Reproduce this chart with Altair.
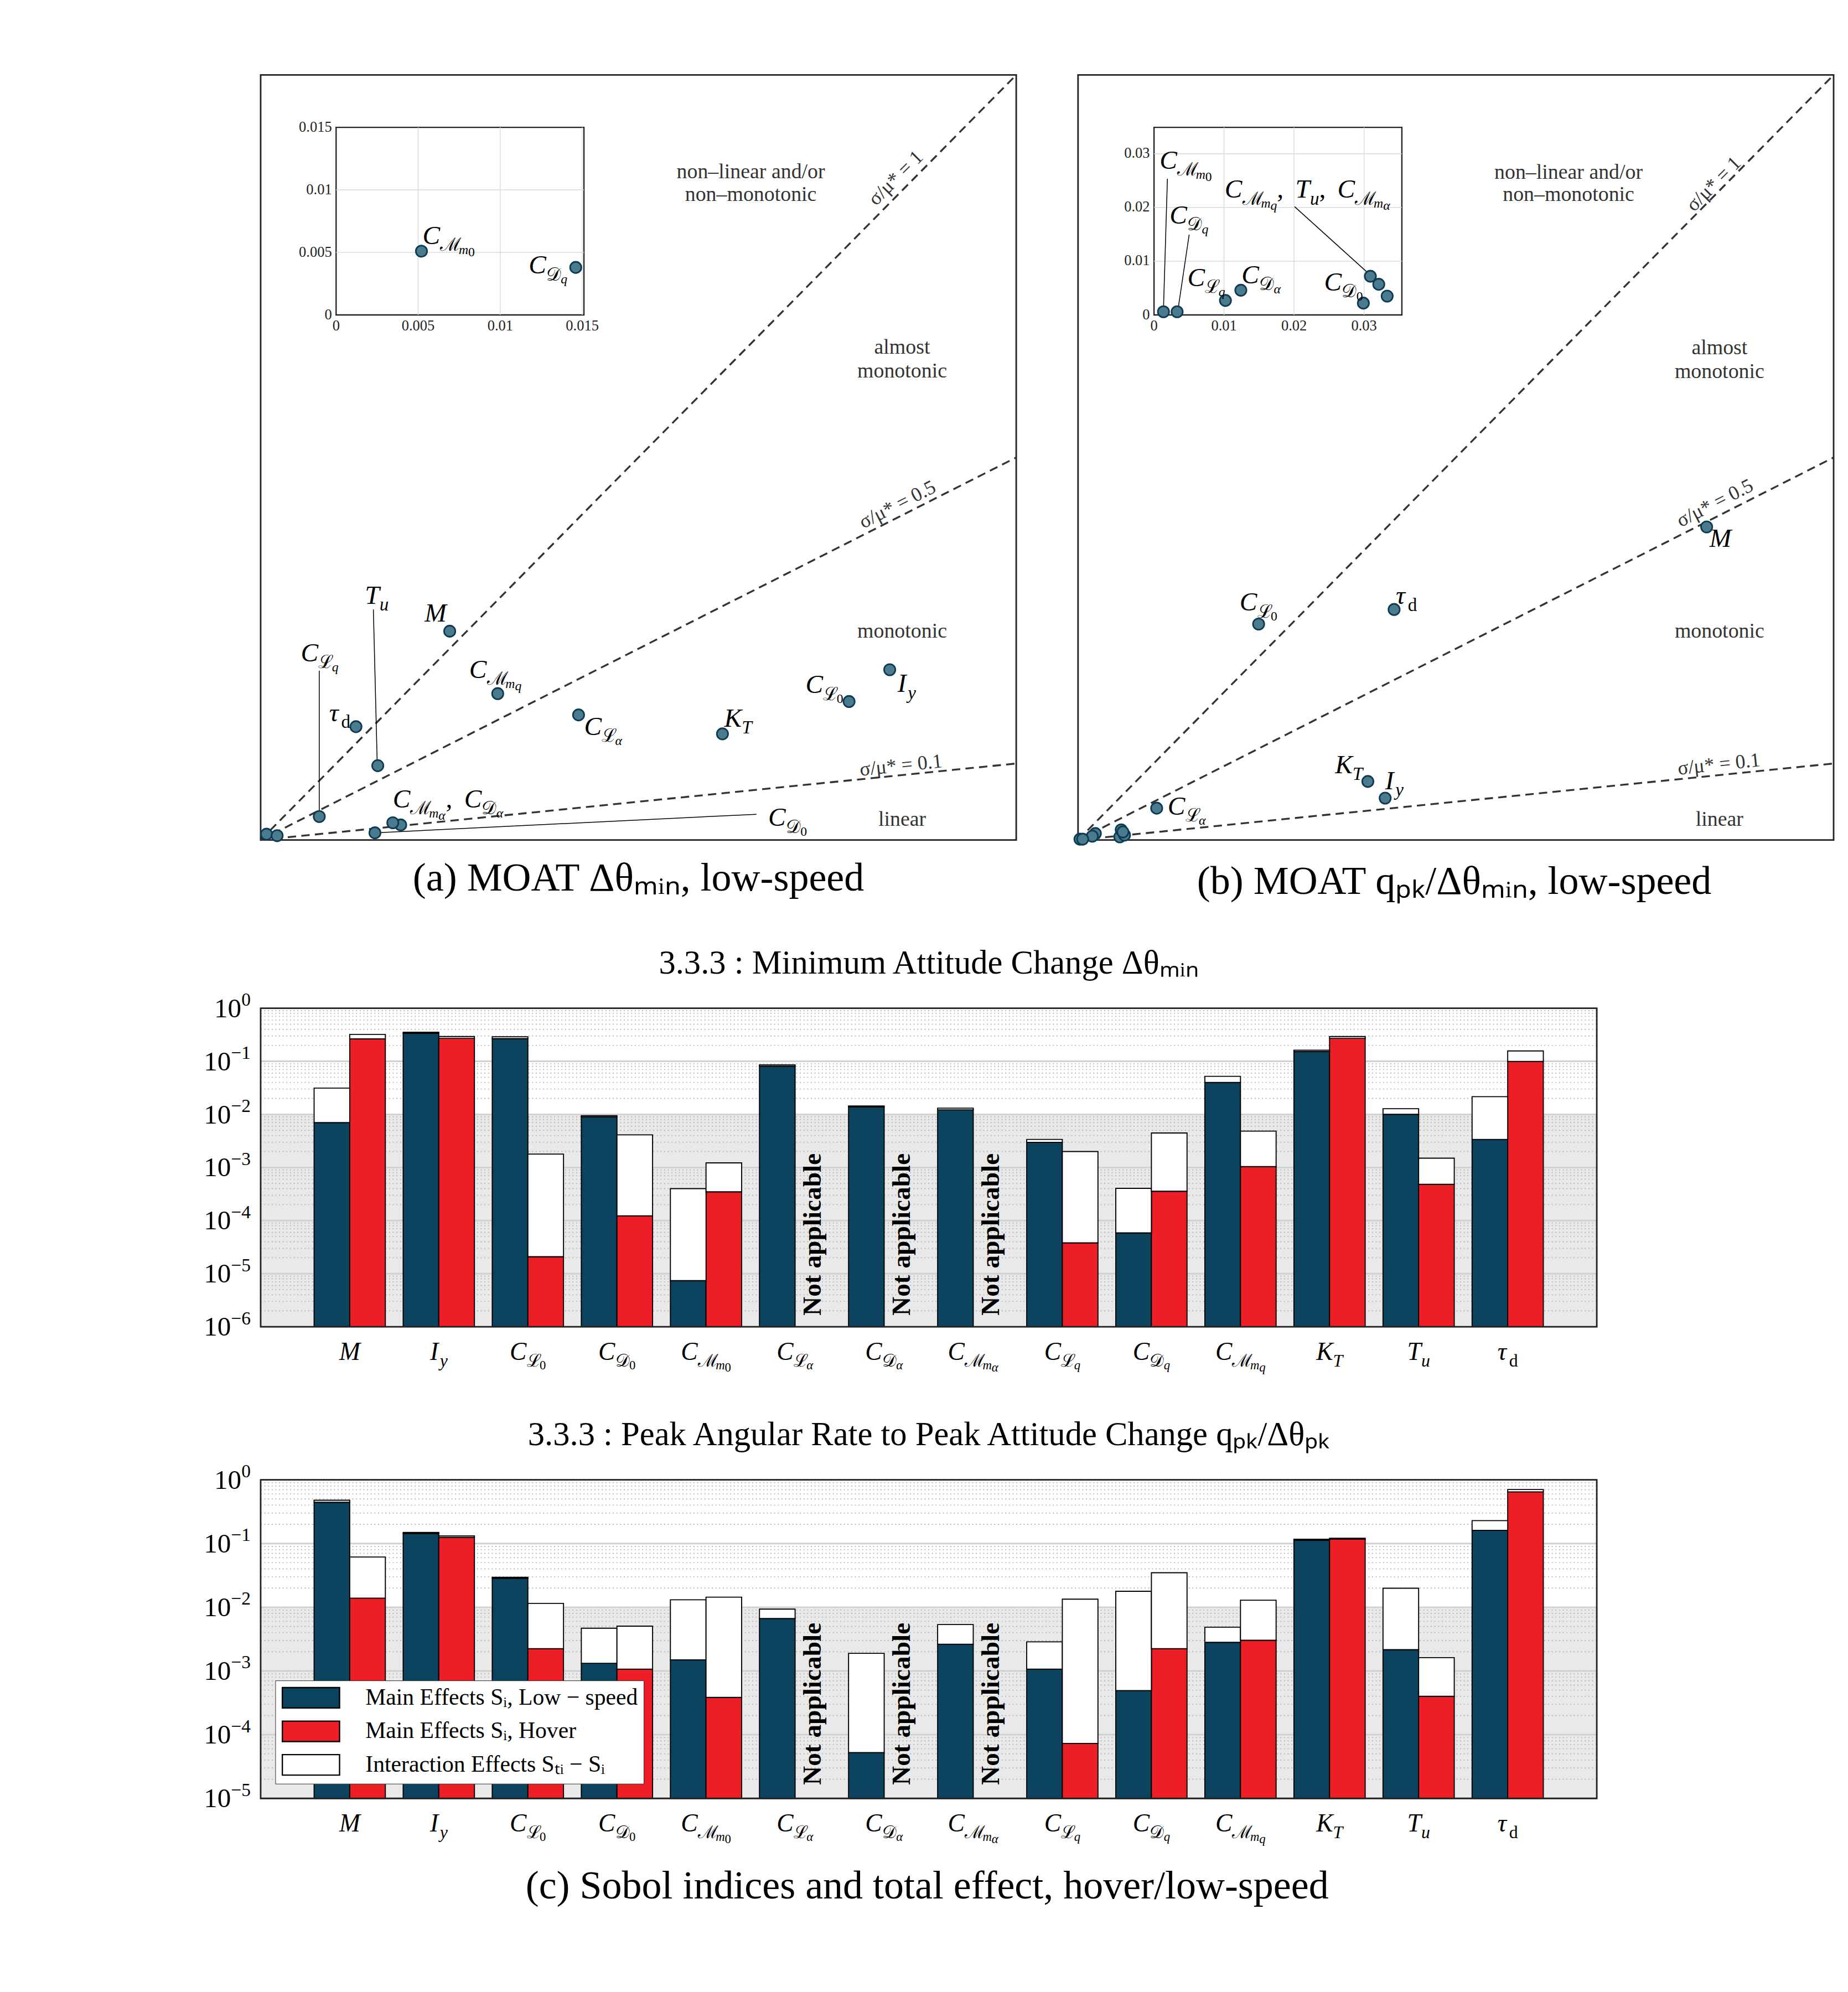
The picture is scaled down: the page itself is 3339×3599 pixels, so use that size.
import math
import altair as alt
import pandas as pd

# ------------------------------------------------------------------ style
FONT = "Liberation Serif"
CAL = "DejaVu Serif"
INK = "#222222"
PT_FILL = "#4B7B8F"
PT_EDGE = "#0E3B52"
LOW_C = "#0C435E"
HOV_C = "#EE1E26"
BAND_C = "#E8E9E8"

# ------------------------------------------------------------------ data
PARAMS = ["M", "Iy", "CL0", "CD0", "CMm0", "CLa", "CDa", "CMma",
          "CLq", "CDq", "CMmq", "KT", "Tu", "td"]

# label pieces: (text, level, style)
SEG = {
    "M": [("M", 0, "i")],
    "Iy": [("I", 0, "i"), ("y", 1, "i")],
    "CL0": [("C", 0, "i"), ("ℒ", 1, "c"), ("0", 2, "r")],
    "CD0": [("C", 0, "i"), ("𝒟", 1, "c"), ("0", 2, "r")],
    "CMm0": [("C", 0, "i"), ("ℳ", 1, "c"), ("m", 2, "i"), ("0", 3, "r")],
    "CLa": [("C", 0, "i"), ("ℒ", 1, "c"), ("α", 2, "i")],
    "CDa": [("C", 0, "i"), ("𝒟", 1, "c"), ("α", 2, "i")],
    "CMma": [("C", 0, "i"), ("ℳ", 1, "c"), ("m", 2, "i"), ("α", 3, "i")],
    "CLq": [("C", 0, "i"), ("ℒ", 1, "c"), ("q", 2, "i")],
    "CDq": [("C", 0, "i"), ("𝒟", 1, "c"), ("q", 2, "i")],
    "CMmq": [("C", 0, "i"), ("ℳ", 1, "c"), ("m", 2, "i"), ("q", 3, "i")],
    "KT": [("K", 0, "i"), ("T", 1, "i")],
    "Tu": [("T", 0, "i"), ("u", 1, "i")],
    "td": [("τ", 0, "i"), ("d", 1, "r")],
}

# MOAT (a): low-speed, delta theta min
A_MU = [0.1674, 0.557, 0.521, 0.1012, 0.0052, 0.2815, 0.124, 0.117,
        0.0519, 0.0146, 0.2099, 0.4089, 0.1037, 0.0844]
A_SIGMA = [0.1826, 0.1489, 0.1211, 0.0063, 0.0051, 0.1094, 0.0132, 0.0151,
           0.0205, 0.0038, 0.128, 0.0928, 0.065, 0.0991]
# MOAT (b): low-speed, q_pk / delta theta min
B_MU = [0.4501, 0.2199, 0.1293, 0.0299, 0.00135, 0.0563, 0.0124, 0.0333,
        0.0102, 0.0033, 0.0309, 0.2075, 0.0321, 0.2263]
B_SIGMA = [0.2214, 0.0296, 0.1527, 0.0022, 0.0006, 0.0225, 0.0046, 0.0035,
           0.0027, 0.0006, 0.0072, 0.0414, 0.0057, 0.163]

A_LIM = 0.669
B_LIM = 0.541
A_TICKS = [0, 0.1, 0.2, 0.3, 0.4, 0.5, 0.6]
B_TICKS = [0, 0.05, 0.1, 0.15, 0.2, 0.25, 0.3, 0.35, 0.4, 0.45, 0.5]
IA_LIM = (0.0151, 0.0150)
IB_LIM = (0.0354, 0.0349)
IA_TICKS = [0, 0.005, 0.01, 0.015]
IB_TICKS = [0, 0.01, 0.02, 0.03]
RATIOS = [1.0, 0.5, 0.1]

# label anchors (left/baseline, in data units)
LAB_A = [(["M"], 0.1452, 0.1909), (["Iy"], 0.564, 0.1294), (["CL0"], 0.4825, 0.1284),
         (["CD0"], 0.4494, 0.0122), (["CLa"], 0.2864, 0.0918), (["CLq"], 0.0356, 0.1563),
         (["CMmq"], 0.1847, 0.1416), (["KT"], 0.4104, 0.0991), (["Tu"], 0.0923, 0.2065),
         (["td"], 0.0607, 0.104), (["CMma", "CDa"], 0.117, 0.0283)]
ILAB_A = [(["CMm0"], 0.00527, 0.00567), (["CDq"], 0.01173, 0.0033)]
LAB_B = [(["M"], 0.4521, 0.2072), (["Iy"], 0.2199, 0.0359), (["CL0"], 0.1157, 0.1622),
         (["CLa"], 0.0642, 0.0178), (["KT"], 0.184, 0.0474), (["td"], 0.2275, 0.1669)]
ILAB_B = [(["CMm0"], 0.0008, 0.0272), (["CDq"], 0.00223, 0.0170), (["CLq"], 0.00478, 0.0054),
          (["CDa"], 0.0125, 0.0059), (["CD0"], 0.0243, 0.00457),
          (["CMmq", "Tu", "CMma"], 0.0101, 0.0218)]
LEAD_A = [(0.0519, 0.148, 0.0519, 0.0215), (0.0998, 0.2017, 0.1032, 0.0674),
          (0.1012, 0.0063, 0.439, 0.0225)]
ILEAD_B = [(0.00191, 0.02534, 0.00135, 0.00104), (0.00502, 0.01495, 0.00343, 0.00104),
           (0.02008, 0.02015, 0.03084, 0.00748)]
REG_A = [("non–linear and/or", 0.434, 0.5786), ("non–monotonic", 0.434, 0.559),
         ("almost", 0.568, 0.4253), ("monotonic", 0.568, 0.4043),
         ("monotonic", 0.568, 0.1772), ("linear", 0.568, 0.0122)]
REG_B = [("non–linear and/or", 0.3512, 0.4676), ("non–monotonic", 0.3512, 0.4519),
         ("almost", 0.4593, 0.3437), ("monotonic", 0.4593, 0.3268),
         ("monotonic", 0.4593, 0.1433), ("linear", 0.4593, 0.0099)]
LL_A = [("σ/μ* = 1", 0.5625, 0.5786, 315), ("σ/μ* = 0.5", 0.564, 0.293, 333),
        ("σ/μ* = 0.1", 0.567, 0.0649, 354)]
LL_B = [("σ/μ* = 1", 0.4553, 0.4637, 315), ("σ/μ* = 0.5", 0.4561, 0.238, 333),
        ("σ/μ* = 0.1", 0.4589, 0.0533, 354)]

# Sobol indices: main effect S_i and total effect S_Ti
LOW1_SI = [7.0e-3, 0.336, 0.267, 9.05e-3, 7.4e-6, 0.0809, 0.0139, 0.0122,
           2.98e-3, 5.86e-5, 0.0399, 0.153, 0.01005, 3.38e-3]
LOW1_ST = [0.0313, 0.352, 0.290, 9.48e-3, 4.0e-4, 0.0857, 0.0144, 0.0131,
           3.38e-3, 4.05e-4, 0.0521, 0.162, 0.0128, 0.0216]
HOV1_SI = [0.264, 0.270, 2.09e-5, 1.23e-4, 3.49e-4, None, None, None,
           3.81e-5, 3.57e-4, 1.04e-3, 0.270, 4.82e-4, 0.0996]
HOV1_ST = [0.321, 0.293, 1.79e-3, 4.12e-3, 1.22e-3, None, None, None,
           2.0e-3, 4.47e-3, 4.84e-3, 0.293, 1.50e-3, 0.157]
LOW2_SI = [0.443, 0.144, 0.0285, 1.32e-3, 1.49e-3, 6.64e-3, 5.24e-5, 2.63e-3,
           1.07e-3, 4.93e-4, 2.81e-3, 0.1125, 2.16e-3, 0.161]
LOW2_ST = [0.478, 0.149, 0.0296, 4.68e-3, 0.0131, 9.33e-3, 1.89e-3, 5.35e-3,
           2.86e-3, 0.0178, 4.86e-3, 0.1167, 0.0199, 0.2286]
HOV2_SI = [0.0139, 0.125, 2.24e-3, 1.07e-3, 3.85e-4, None, None, None,
           7.29e-5, 2.24e-3, 3.03e-3, 0.118, 4.0e-4, 0.647]
HOV2_ST = [0.0614, 0.132, 0.0115, 5.05e-3, 0.0144, None, None, None,
           0.0134, 0.0348, 0.0129, 0.121, 1.62e-3, 0.705]
YMIN1, YMIN2 = 1e-6, 1e-5
BAND_TOP = 1e-2
NA_Y1, NA_Y2 = 10 ** -5.79, 10 ** -4.79
LEG = ["Main Effects Sᵢ, Low − speed", "Main Effects Sᵢ, Hover",
       "Interaction Effects Sₜᵢ − Sᵢ"]

# ------------------------------------------------------------------ layout constants
PW, PH = 1442, 1460           # scatter plot area
IA_PX = (144, 617, 100, 458)  # inset box in plot pixels: left, right, top, bottom
IB_PX = (145, 618, 100, 458)
BW, BH = 2550, 608            # bar plot area
BAR_LEFT_EXTENT = 465         # room kept left of the bar plots
BARW = 0.4
SIZE = {0: 1.0, 1: 0.7, 2: 0.5, 3: 0.5, 9: 0.68}
DROP = {0: 0.0, 1: 0.26, 2: 0.38, 3: 0.46, 9: -0.42}
FONTS = {"i": FONT, "r": FONT, "c": CAL}
CW = {'M': 0.83, 'I': 0.39, 'C': 0.67, 'K': 0.67, 'T': 0.56, 'τ': 0.46, 'y': 0.44,
      'm': 0.72, 'q': 0.50, 'u': 0.50, 'α': 0.56, 'd': 0.50, '−': 0.56,
      'ℒ': 0.74, 'ℳ': 1.02, '𝒟': 0.80, ',': 0.25, ' ': 0.25, '\u2009': 0.2}


def compose(keys):
    segs = []
    for j, k in enumerate(keys):
        if j:
            segs += [("\u2009,", 0, "r"), (" ", 0, "r")]
        segs += SEG[k]
    return segs


def build_segments(segs, ax, ay, F, dpp, align="left"):
    rows, off = [], 0.0
    for text, lvl, sty in segs:
        rows.append((off, text, lvl, sty))
        off += sum(CW.get(ch, 0.5) for ch in text) * F * SIZE[lvl]
    shift = {"left": 0.0, "center": -off / 2, "right": -off}[align]
    return [dict(x=ax + (o + shift) * dpp, y=ay, text=t, lvl=l, sty=s)
            for o, t, l, s in rows if t.strip()]


def text_layers(rows, xs, ys, F, base_dy=0.0, color="black"):
    df = pd.DataFrame(rows)
    out = []
    for lvl, sty in sorted(set(zip(df["lvl"], df["sty"]))):
        sub = df[(df["lvl"] == lvl) & (df["sty"] == sty)][["x", "y", "text"]]
        out.append(
            alt.Chart(sub).mark_text(
                align="left", baseline="alphabetic", fontSize=F * SIZE[lvl],
                dy=base_dy + F * DROP[lvl], font=FONTS[sty],
                fontStyle="italic" if sty == "i" else "normal", color=color
            ).encode(x=alt.X("x:Q", scale=xs, axis=None),
                     y=alt.Y("y:Q", scale=ys, axis=None),
                     text="text:N")
        )
    return out


def scatter_panel(mu, sig, lim, ticks, ilim, iticks, ipx, labs, ilabs, leads,
                  ileads, regs, lls, caption):
    XS = alt.Scale(domain=[0, lim], nice=False, zero=False)
    YS = alt.Scale(domain=[0, lim], nice=False, zero=False)
    dpx = lim / PW
    dpy = lim / PH
    pts = pd.DataFrame({"p": PARAMS, "mu": mu, "sigma": sig})
    lines = pd.DataFrame([{"r": r, "mu": m, "sigma": r * m}
                          for r in RATIOS for m in (0.0, lim)])

    def ax(title, pad):
        return alt.Axis(values=ticks, format="~g", labelFlush=False, labelOverlap=False,
                        labelFont=FONT, labelFontSize=44, labelColor=INK, labelPadding=16,
                        ticks=False, domain=False, grid=True, gridColor="#DADADA",
                        gridWidth=1.5, title=title, titleFont=FONT, titleFontSize=54,
                        titleFontWeight="normal", titleColor=INK, titlePadding=pad)

    def enc(xf, yf):
        return dict(x=alt.X(xf, scale=XS, axis=None), y=alt.Y(yf, scale=YS, axis=None))

    layers = [
        alt.Chart(lines).mark_line(strokeDash=[16, 10], strokeWidth=3.5, color="#333333")
        .encode(x=alt.X("mu:Q", scale=XS, axis=ax("Modified Mean of Elementary Effects μ*", 12)),
                y=alt.Y("sigma:Q", scale=YS, axis=ax("Standard Deviation of Elementary Effects σ", 10)),
                detail="r:N")
    ]
    if leads:
        layers.append(
            alt.Chart(pd.DataFrame(leads, columns=["lx", "ly", "lx2", "ly2"]))
            .mark_rule(color="black", strokeWidth=1.6)
            .encode(x2="lx2:Q", y2="ly2:Q", **enc("lx:Q", "ly:Q")))
    layers.append(
        alt.Chart(pts).mark_circle(size=460, color=PT_FILL, stroke=PT_EDGE, strokeWidth=3, opacity=1)
        .encode(**enc("mu:Q", "sigma:Q")))
    layers.append(
        alt.Chart(pd.DataFrame(regs, columns=["t", "x", "y"]))
        .mark_text(align="center", baseline="alphabetic", font=FONT, fontSize=40, color="#333333")
        .encode(text="t:N", **enc("x:Q", "y:Q")))
    layers.append(
        alt.Chart(pd.DataFrame(lls, columns=["t", "x", "y", "ang"]))
        .mark_text(align="center", baseline="middle", font=FONT, fontSize=38, color="#333333")
        .encode(text="t:N", angle=alt.Angle("ang:Q", scale=None), **enc("x:Q", "y:Q")))
    rows = []
    for keys, lx, ly in labs:
        rows += build_segments(compose(keys), lx, ly, 50, dpx)
    layers += text_layers(rows, XS, YS, 50)

    # ---- inset: its values are mapped linearly into the box drawn in the corner
    xl, xr = ipx[0] * dpx, ipx[1] * dpx
    yt, yb = lim - ipx[2] * dpy, lim - ipx[3] * dpy

    def IX(v):
        return xl + v * (xr - xl) / ilim[0]

    def IY(v):
        return yb + v * (yt - yb) / ilim[1]

    frame = pd.DataFrame([{"x0": IX(0), "x1": IX(ilim[0]), "y0": IY(0), "y1": IY(ilim[1])}])
    layers.append(
        alt.Chart(frame).mark_rect(fill="white", stroke=INK, strokeWidth=2.5)
        .encode(x2="x1:Q", y2="y1:Q", **enc("x0:Q", "y0:Q")))
    grid = []
    for v in iticks:
        if 0 < v < ilim[0]:
            grid.append((IX(v), IY(0), IX(v), IY(ilim[1])))
        if 0 < v < ilim[1]:
            grid.append((IX(0), IY(v), IX(ilim[0]), IY(v)))
    layers.append(
        alt.Chart(pd.DataFrame(grid, columns=["lx", "ly", "lx2", "ly2"]))
        .mark_rule(color="#DADADA", strokeWidth=1.5)
        .encode(x2="lx2:Q", y2="ly2:Q", **enc("lx:Q", "ly:Q")))
    xt = pd.DataFrame([{"x": IX(v), "y": IY(0), "t": f"{v:g}"} for v in iticks])
    yt_df = pd.DataFrame([{"x": IX(0), "y": IY(v), "t": f"{v:g}"} for v in iticks])
    layers.append(
        alt.Chart(xt).mark_text(align="center", baseline="top", dy=8, font=FONT, fontSize=28, color=INK)
        .encode(text="t:N", **enc("x:Q", "y:Q")))
    layers.append(
        alt.Chart(yt_df).mark_text(align="right", baseline="middle", dx=-8, font=FONT, fontSize=28, color=INK)
        .encode(text="t:N", **enc("x:Q", "y:Q")))
    if ileads:
        il = pd.DataFrame([(IX(a), IY(b), IX(c), IY(d)) for a, b, c, d in ileads],
                          columns=["lx", "ly", "lx2", "ly2"])
        layers.append(
            alt.Chart(il).mark_rule(color="black", strokeWidth=1.6)
            .encode(x2="lx2:Q", y2="ly2:Q", **enc("lx:Q", "ly:Q")))
    ipts = pts[(pts["mu"] <= ilim[0]) & (pts["sigma"] <= ilim[1])].copy()
    ipts["ix"] = [IX(v) for v in ipts["mu"]]
    ipts["iy"] = [IY(v) for v in ipts["sigma"]]
    layers.append(
        alt.Chart(ipts).mark_circle(size=460, color=PT_FILL, stroke=PT_EDGE, strokeWidth=3, opacity=1)
        .encode(**enc("ix:Q", "iy:Q")))
    rows = []
    for keys, lx, ly in ilabs:
        rows += build_segments(compose(keys), IX(lx), IY(ly), 50, dpx)
    layers += text_layers(rows, XS, YS, 50)

    return alt.layer(*layers).properties(
        width=PW, height=PH,
        view=alt.ViewBackground(stroke=INK, strokeWidth=3),
        title=alt.TitleParams(caption, orient="bottom", anchor="middle", frame="bounds", font=FONT,
                              fontSize=76, fontWeight="normal", color="black", offset=28))


def bar_panel(lsi, lst, hsi, hst, ymin, na_y, title, legend):
    n = len(PARAMS)
    XS = alt.Scale(domain=[0, n + 1], nice=False, zero=False)
    YS = alt.Scale(type="log", domain=[ymin, 1], nice=False)
    dpp = (n + 1) / BW
    e0 = round(math.log10(ymin))
    major = [10.0 ** e for e in range(e0, 1)]
    minor = [k * 10.0 ** e for e in range(e0, 0) for k in range(2, 10)]

    rows = []
    for i in range(n):
        rows.append(dict(idx=i + 1, k=0, si=lsi[i], st=lst[i], series=LEG[0], base=ymin))
        if hsi[i] is not None:
            rows.append(dict(idx=i + 1, k=1, si=hsi[i], st=hst[i], series=LEG[1], base=ymin))
    bars = pd.DataFrame(rows)
    na = pd.DataFrame([dict(idx=i + 1, y=na_y, t="Not applicable") for i in range(n) if hsi[i] is None])

    csc = alt.Scale(domain=LEG, range=[LOW_C, HOV_C, "white"])
    leg = None
    if legend:
        leg = alt.Legend(title=None, orient="bottom-left", offset=28, padding=11, strokeColor=INK,
                         fillColor="white", symbolType="M-2.8,-1H2.8V1H-2.8Z", symbolSize=1521,
                         symbolStrokeColor="black", symbolStrokeWidth=2.5, symbolOffset=35,
                         labelOffset=82, labelFont=FONT, labelFontSize=44, labelColor="black",
                         labelLimit=2000, rowPadding=14, symbolOpacity=1)

    band = pd.DataFrame([dict(x0=0, x1=n + 1, y0=ymin, y1=BAND_TOP)])
    box = pd.DataFrame([dict(x0=0, x1=n + 1, y0=ymin, y1=1.0)])
    pad = pd.DataFrame([dict(x=-BAR_LEFT_EXTENT * dpp, y=ymin)])
    calc = dict(x0=f"datum.idx - {BARW} + {BARW} * datum.k", x1=f"datum.idx + {BARW} * datum.k")
    layers = [
        alt.Chart(pad).mark_point(filled=True, color="white", size=4, opacity=1)
        .encode(x=alt.X("x:Q", scale=XS, axis=None), y=alt.Y("y:Q", scale=YS, axis=None)),
        alt.Chart(band).mark_rect(color=BAND_C)
        .encode(x=alt.X("x0:Q", scale=XS, axis=None), x2="x1:Q",
                y=alt.Y("y0:Q", scale=YS, axis=None), y2="y1:Q"),
        alt.Chart(pd.DataFrame({"v": minor})).mark_rule(color="#B5B5B5", strokeWidth=2, strokeDash=[2, 5])
        .encode(y=alt.Y("v:Q", scale=YS, axis=None)),
        alt.Chart(pd.DataFrame({"v": major})).mark_rule(color="#D0D0D0", strokeWidth=3)
        .encode(y=alt.Y("v:Q", scale=YS, axis=None)),
        alt.Chart(bars).transform_calculate(**calc)
        .mark_rect(stroke="black", strokeWidth=2, opacity=1)
        .encode(x=alt.X("x0:Q", scale=XS,
                        axis=alt.Axis(orient="top", values=list(range(1, n + 1)), labels=False,
                                      domain=False, grid=False, ticks=True, tickSize=26, offset=-26,
                                      tickColor=INK, tickWidth=2, zindex=1, title=None)),
                x2="x1:Q",
                y=alt.Y("si:Q", scale=YS,
                        axis=alt.Axis(orient="left", values=major, labels=False, domain=False,
                                      grid=False, ticks=True, tickSize=26, offset=-26, tickColor=INK,
                                      tickWidth=2, zindex=1, title="Sobol Indices", titleFont=FONT,
                                      titleFontSize=62, titleFontWeight="bold", titleColor="#111111",
                                      titlePadding=137)),
                y2="base:Q",
                color=alt.Color("series:N", scale=csc, legend=leg)),
        alt.Chart(bars).transform_calculate(**calc)
        .mark_rect(fill="white", stroke="black", strokeWidth=2)
        .encode(x=alt.X("x0:Q", scale=XS, axis=None), x2="x1:Q",
                y=alt.Y("si:Q", scale=YS, axis=None), y2="st:Q"),
        alt.Chart(na).transform_calculate(xn=f"datum.idx + {BARW / 2}")
        .mark_text(angle=270, align="left", baseline="middle", font=FONT, fontSize=50,
                   fontWeight="bold", color="black")
        .encode(x=alt.X("xn:Q", scale=XS, axis=None), y=alt.Y("y:Q", scale=YS, axis=None), text="t:N"),
    ]
    crow = []
    for i, p in enumerate(PARAMS):
        crow += build_segments(SEG[p], i + 1, ymin, 48, dpp, align="center")
    layers += text_layers(crow, XS, YS, 48, base_dy=63)
    trow = []
    for v in major:
        e = round(math.log10(v))
        segs = [("10", 0, "r"), ("0" if e == 0 else "−%d" % (-e), 9, "r")]
        trow += build_segments(segs, -19 * dpp, v, 52, dpp, align="right")
    layers += text_layers(trow, XS, YS, 52, base_dy=17)
    layers.append(
        alt.Chart(box).mark_rect(fillOpacity=0, stroke=INK, strokeWidth=3)
        .encode(x=alt.X("x0:Q", scale=XS, axis=None), x2="x1:Q",
                y=alt.Y("y0:Q", scale=YS, axis=None), y2="y1:Q"))
    return alt.layer(*layers).properties(
        width=BW, height=BH,
        title=alt.TitleParams(title, anchor="middle", frame="group", font=FONT, fontSize=64,
                              fontWeight="normal", color="black", offset=20))


pa = scatter_panel(A_MU, A_SIGMA, A_LIM, A_TICKS, IA_LIM, IA_TICKS, IA_PX, LAB_A, ILAB_A,
                   LEAD_A, [], REG_A, LL_A, "(a) MOAT Δθₘᵢₙ, low-speed")
pb = scatter_panel(B_MU, B_SIGMA, B_LIM, B_TICKS, IB_LIM, IB_TICKS, IB_PX, LAB_B, ILAB_B,
                   [], ILEAD_B, REG_B, LL_B, "(b) MOAT qₚₖ/Δθₘᵢₙ, low-speed")
bar1 = bar_panel(LOW1_SI, LOW1_ST, HOV1_SI, HOV1_ST, YMIN1, NA_Y1,
                 "3.3.3 : Minimum Attitude Change Δθₘᵢₙ", False)
bar2 = bar_panel(LOW2_SI, LOW2_ST, HOV2_SI, HOV2_ST, YMIN2, NA_Y2,
                 "3.3.3 :  Peak Angular Rate to Peak Attitude Change qₚₖ/Δθₚₖ", True)

top = alt.hconcat(pa, pb, spacing=94)

chart = alt.vconcat(top, bar1, bar2, spacing=83).resolve_scale(color="independent").resolve_legend(
    color="independent").properties(
    padding={"left": 22, "top": 26, "right": 10, "bottom": 10},
    title=alt.TitleParams("(c) Sobol indices and total effect, hover/low-speed", orient="bottom",
                          anchor="middle", frame="bounds", font=FONT, fontSize=76,
                          fontWeight="normal", color="black", offset=40),
).configure_view(stroke="transparent")

chart.save("out.html", embed_options={"renderer": "svg", "actions": False})
